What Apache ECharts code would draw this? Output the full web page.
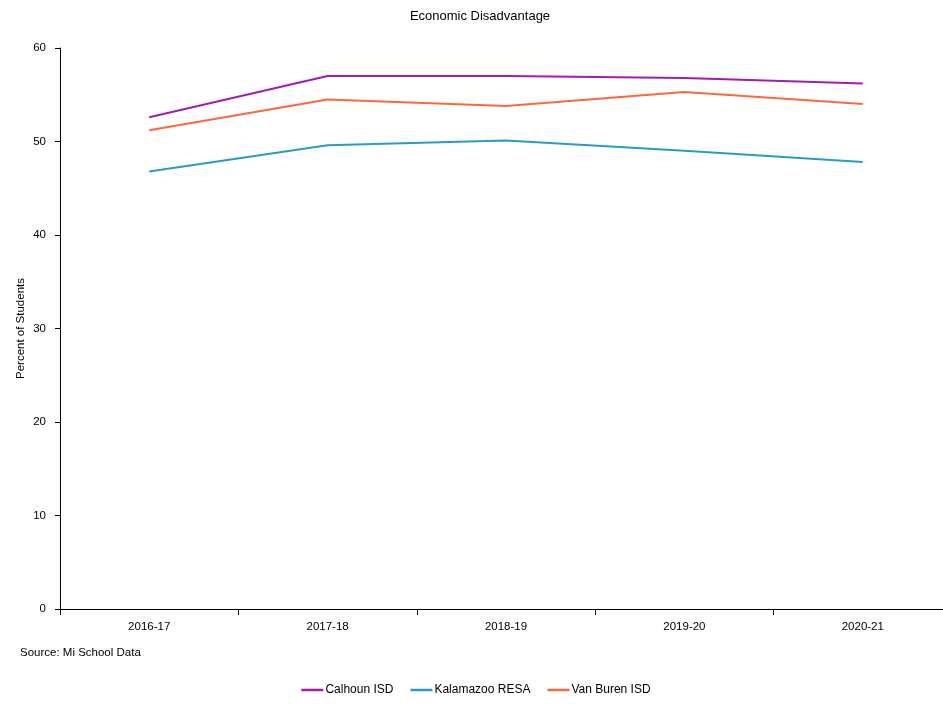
<!DOCTYPE html>
<html>
<head>
<meta charset="utf-8">
<script src="https://cdn.jsdelivr.net/npm/echarts@6/dist/echarts.min.js"></script>
<style>
  html, body { margin: 0; padding: 0; background: #fff; overflow: hidden; }
  /* canvas runs a little past the right edge so the last category slot is clipped */
  #chart { width: 952px; height: 715px; }
</style>
</head>
<body>
<div id="chart"></div>
<script>
// School years on the category axis
const years = ['2016-17', '2017-18', '2018-19', '2019-20', '2020-21'];

// Percent of students who are economically disadvantaged, by district
const calhounISD = [52.6, 57.0, 57.0, 56.8, 56.2];
const kalamazooRESA = [46.8, 49.6, 50.1, 49.0, 47.8];
const vanBurenISD = [51.2, 54.5, 53.8, 55.3, 54.0];

const seriesNames = ['Calhoun ISD', 'Kalamazoo RESA', 'Van Buren ISD'];
const seriesColors = ['#a21caf', '#2a9bc6', '#ff6640'];
const seriesData = [calhounISD, kalamazooRESA, vanBurenISD];

const font = 'Liberation Sans';
const chart = echarts.init(document.getElementById('chart'));

chart.setOption({
  animation: false,
  backgroundColor: '#fff',
  title: {
    text: 'Economic Disadvantage',
    left: 475,
    top: 5,
    textAlign: 'center',
    textStyle: { fontFamily: font, fontSize: 13, fontWeight: 'normal', color: '#000' }
  },
  graphic: [{
    type: 'text',
    left: 20,
    top: 647,
    style: { text: 'Source: Mi School Data', fontFamily: font, fontSize: 11.5, fill: '#000' }
  }],
  legend: {
    data: seriesNames,
    top: 679,
    left: 'center',
    icon: 'rect',
    itemWidth: 22,
    itemHeight: 2.5,
    itemGap: 17,
    textStyle: { fontFamily: font, fontSize: 12, color: '#000', padding: [0, 0, 0, -3] }
  },
  grid: { left: 60, right: 0, top: 48, bottom: 106, containLabel: false },
  xAxis: {
    type: 'category',
    data: years,
    boundaryGap: true,
    axisLine: { lineStyle: { color: '#000', width: 1 } },
    axisTick: { show: true, length: 6, lineStyle: { color: '#000' } },
    axisLabel: { fontFamily: font, fontSize: 11.5, color: '#000', margin: 12 },
    splitLine: { show: false }
  },
  yAxis: {
    type: 'value',
    min: 0,
    max: 60,
    interval: 10,
    name: 'Percent of Students',
    nameLocation: 'middle',
    nameGap: 33,
    nameMoveOverlap: false,
    nameTextStyle: { fontFamily: font, fontSize: 11.5, color: '#000' },
    axisLine: { show: true, lineStyle: { color: '#000', width: 1 } },
    axisTick: { show: true, length: 5, lineStyle: { color: '#000' } },
    axisLabel: { fontFamily: font, fontSize: 11.5, color: '#000', margin: 14 },
    splitLine: { show: false }
  },
  series: seriesNames.map((name, i) => ({
    name: name,
    type: 'line',
    data: seriesData[i],
    showSymbol: false,
    symbol: 'none',
    color: seriesColors[i],
    lineStyle: { width: 2, color: seriesColors[i] }
  }))
});
</script>
</body>
</html>
